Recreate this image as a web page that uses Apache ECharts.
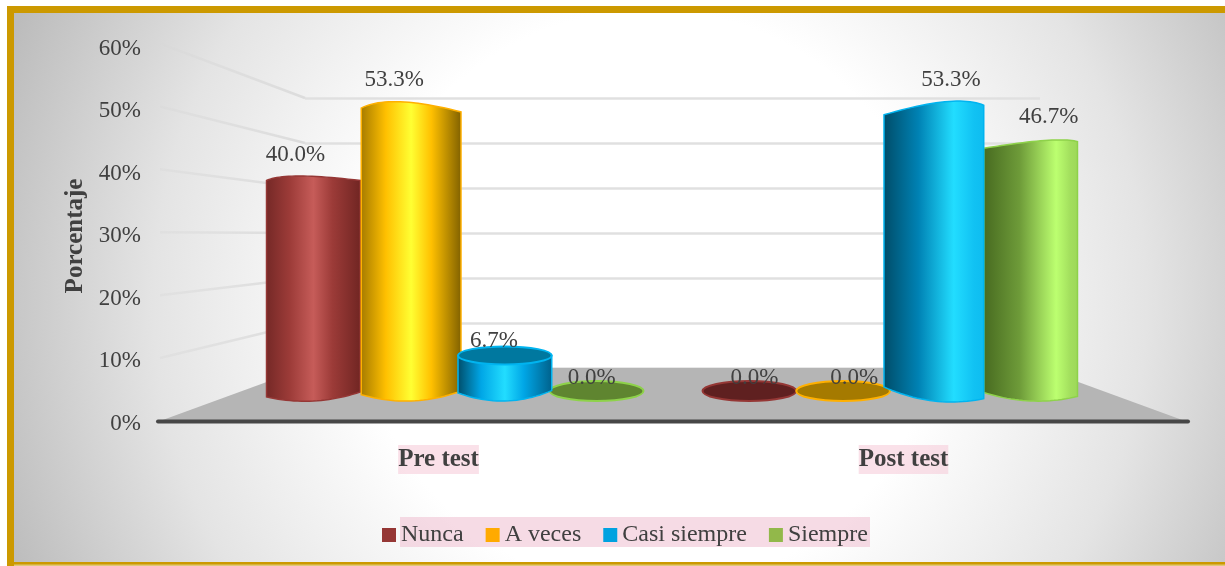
<!DOCTYPE html>
<html>
<head>
<meta charset="utf-8">
<style>html,body{margin:0;padding:0;background:#fff}#c{width:1225px;height:566px}</style>
<script src="https://cdn.jsdelivr.net/npm/echarts@6/dist/echarts.min.js"></script>
</head>
<body>
<div id="c"></div>
<script>
const categories = ['Pre test', 'Post test'];
const nunca = [40.0, 0.0];
const aVeces = [53.3, 0.0];
const casiSiempre = [6.7, 53.3];
const siempre = [0.0, 46.7];
const yTicks = [0, 10, 20, 30, 40, 50, 60];

const FONT = '"Liberation Serif","Times New Roman",serif';
const TXT = '#404040';
const FRONT = {left: 160, width: 1025, top: 43.5, height: 377.5};
const BACK = {left: 305, width: 735, top: 98, height: 270};
const LABELS = {left: 206, width: 930, top: 46, height: 375};
const BARS = {left: 236, width: 872, top: 73, height: 318};
const TICKS = {left: 160, width: 1025, top: 48.5, height: 375};
const MIDX = 672.5;

const palette = [
  {name: 'Nunca', solid: '#953735', dark: '#742826', base: '#9c3b38', light: '#c65c59', end: '#702522', cap: '#5f2020', edge: '#953735', values: nunca, slot: 0, layer: 10},
  {name: 'A veces', solid: '#FFAA00', dark: '#a57a00', base: '#ffc000', light: '#ffff33', end: '#7f6000', cap: '#a57a00', edge: '#ffb000', values: aVeces, slot: 1, layer: 20},
  {name: 'Casi siempre', solid: '#00A2E0', dark: '#004c68', base: '#00a6e6', light: '#22ddff', end: '#00608a', cap: '#00789f', edge: '#00b4f0', values: casiSiempre, slot: 2, layer: 40},
  {name: 'Siempre', solid: '#92B84A', dark: '#476a20', base: '#88bc4a', light: '#bcff70', end: '#4f7a24', cap: '#5f8530', edge: '#8ed24a', values: siempre, slot: 3, layer: 30}
];

function mix(a, b, t) {
  const p = h => [1, 3, 5].map(i => parseInt(h.substr(i, 2), 16));
  const A = p(a), B = p(b);
  return 'rgb(' + A.map((v, i) => Math.round(v + (B[i] - v) * t)).join(',') + ')';
}

function quad(p0, c, p1, n) {
  const pts = [];
  for (let i = 0; i <= n; i++) {
    const s = i / n, r = 1 - s;
    pts.push([r * r * p0[0] + 2 * r * s * c[0] + s * s * p1[0],
              r * r * p0[1] + 2 * r * s * c[1] + s * s * p1[1]]);
  }
  return pts;
}

function cylinder(c) {
  return function (params, api) {
    const cat = api.value(0), v = api.value(1);
    const base = api.coord([cat, 0]);
    const top = api.coord([cat, v]);
    const band = api.size([1, 0])[0];
    const slot = band * 0.215;
    let xc = base[0] + (c.slot - 1.5) * slot;
    const t0 = (xc - MIDX) / 360;
    if (v > 0 && (c.slot === 1 || c.slot === 2)) xc += t0 < 0 ? 4 : -3;
    if (c.slot === 3 && t0 < 0) xc += 2;
    const half = slot / 2 + (v > 50 ? 3 : 0);
    const x0 = xc - half, x1 = xc + half;
    const t = (xc - MIDX) / 360;
    const y0 = base[1], y1 = top[1];
    const dx = xc - MIDX;
    const label = {
      type: 'text', z2: 200,
      style: {
        text: v.toFixed(1) + '%',
        x: xc + Math.sign(dx) * Math.min(18, Math.abs(dx) * 0.065),
        y: y1 - (12.7 + 0.29 * v),
        align: 'center', verticalAlign: 'middle',
        font: '23px ' + FONT, fill: TXT
      }
    };
    const z = c.layer;
    if (v === 0) {
      return {type: 'group', children: [
        {type: 'ellipse', z2: z, shape: {cx: xc, cy: y0, rx: half, ry: 10},
          style: {fill: c.cap, stroke: c.edge, lineWidth: 2}},
        label
      ]};
    }
    const hl = t > 0 ? 0.5 + 0.27 * t : 0.5;
    const afterHl = t > 0 ? mix(c.base, c.light, 0.5) : c.base;
    const rightColor = t > 0 ? mix(c.base, c.light, 0.4) : c.end;
    const fill = new echarts.graphic.LinearGradient(0, 0, 1, 0, [
      {offset: 0, color: c.dark},
      {offset: Math.max(0.12, hl * 0.5), color: t > 0 ? mix(c.dark, c.base, 0.6) : c.base},
      {offset: hl, color: c.light},
      {offset: Math.min(0.92, hl + 0.2), color: afterHl},
      {offset: 1, color: rightColor}
    ]);
    // lower rim, curving toward the viewer and tilted with distance from the centre
    const bc = 3.5 * t * t;
    const bh = t < 0 ? 2.5 * t : (t < 0.9 ? 8 * t : 2 * t);
    const rimL = [x0, y0 + bc - bh], rimR = [x1, y0 + bc + bh];
    const rimMid = (rimL[1] + rimR[1]) / 2;
    const bottom = quad(rimR, [xc, 2 * (y0 + 10) - rimMid], rimL, 24);

    const low = v < 20;
    let topEdge;
    if (low) {
      topEdge = [[x0, y1], [x1, y1]];
    } else {
      const tilt = t < 0 ? -t * (v - 40) * 0.2 : -t * (v - 40) * 0.5;
      const ctrl = v > 50 ? 15 : 7.5;
      topEdge = quad([x0, y1 + 1.5 - tilt], [xc + t * half * 0.6, y1 - ctrl], [x1, y1 + 1.5 + tilt], 24);
    }
    const children = [{
      type: 'polygon', z2: z,
      shape: {points: topEdge.concat(bottom)},
      style: {fill: fill, stroke: c.edge, lineWidth: 1.5}
    }];
    if (low) {
      children.push({type: 'ellipse', z2: z + 1, shape: {cx: xc, cy: y1, rx: half, ry: 9},
        style: {fill: c.cap, stroke: c.edge, lineWidth: 2}});
    }
    children.push(label);
    return {type: 'group', children: children};
  };
}

function walls(params, api) {
  const v = api.value(0);
  const front = api.coord([0, v]);
  const frontX = FRONT.left;
  const yb = BACK.top + BACK.height * (1 - v / 60);
  if (v === 0) {
    return {type: 'polygon', z2: 1, shape: {points: [
      [frontX, front[1]], [FRONT.left + FRONT.width, front[1]],
      [BACK.left + BACK.width, yb], [BACK.left, yb]
    ]}, style: {fill: '#b5b5b5'}};
  }
  return {type: 'line', z2: 1,
    shape: {x1: frontX, y1: front[1], x2: BACK.left, y2: yb},
    style: {lineWidth: 2.5, stroke: new echarts.graphic.LinearGradient(0, 0, 1, 0, [
      {offset: 0, color: 'rgba(215,215,215,0.35)'},
      {offset: 1, color: '#dcdcdc'}
    ])}};
}

const series = [{
  type: 'custom', name: 'walls', silent: true, xAxisIndex: 0, yAxisIndex: 0, z: 1,
  data: yTicks.map(v => [v]), renderItem: walls, encode: {x: -1, y: 0}, clip: false
}].concat(palette.map(c => ({
  type: 'custom', name: c.name, xAxisIndex: 3, yAxisIndex: 3, z: 5, clip: false,
  itemStyle: {color: c.solid},
  data: c.values.map((v, i) => [i, v]),
  encode: {x: 0, y: 1},
  renderItem: cylinder(c)
})));

const plainY = {type: 'value', min: 0, max: 60, interval: 10,
  axisLine: {show: false}, axisTick: {show: false}, axisLabel: {show: false}, splitLine: {show: false}};
const plainX = {type: 'category', data: categories,
  axisLine: {show: false}, axisTick: {show: false}, axisLabel: {show: false}, splitLine: {show: false}};

const chart = echarts.init(document.getElementById('c'), null, {renderer: 'canvas'});
chart.setOption({
  animation: false,
  textStyle: {fontFamily: FONT},
  graphic: [
    {type: 'rect', z: -10, silent: true, shape: {x: 10.5, y: 9.5, width: 1230, height: 556},
      style: {
        fill: new echarts.graphic.RadialGradient(650, 300, 690, [
          {offset: 0, color: '#ffffff'},
          {offset: 0.42, color: '#ffffff'},
          {offset: 0.72, color: '#e4e4e4'},
          {offset: 1, color: '#bcbcbc'}
        ], true),
        stroke: '#CC9900', lineWidth: 7
      }},
    {type: 'rect', z: -9, silent: true, shape: {x: 14, y: 564.5, width: 1211, height: 1.5},
      style: {fill: '#e0c878'}},
    {type: 'rect', z: -1, silent: true, shape: {x: 400, y: 517, width: 470, height: 30},
      style: {fill: 'rgba(240,195,212,0.6)'}},
    {type: 'line', z: 3, silent: true, shape: {x1: 158, y1: 421.5, x2: 1188, y2: 421.5},
      style: {stroke: '#474747', lineWidth: 4, lineCap: 'round'}}
  ],
  legend: {
    left: 377, top: 518, itemWidth: 14, itemHeight: 14, itemGap: 22,
    icon: 'rect', selectedMode: false,
    data: palette.map(c => c.name),
    textStyle: {fontFamily: FONT, fontSize: 24, color: TXT, padding: [2, 0, 0, 0]}
  },
  grid: [
    Object.assign({containLabel: false}, FRONT),
    Object.assign({containLabel: false}, BACK),
    Object.assign({containLabel: false}, LABELS),
    Object.assign({containLabel: false}, BARS),
    Object.assign({containLabel: false}, TICKS)
  ],
  xAxis: [
    Object.assign({gridIndex: 0}, plainX),
    Object.assign({gridIndex: 1}, plainX),
    Object.assign({gridIndex: 2}, plainX, {
      axisLabel: {show: true, margin: 24, fontFamily: FONT, fontSize: 25, fontWeight: 'bold', color: TXT,
        backgroundColor: 'rgba(245,195,212,0.5)', padding: [2, 0, 2, 0]}
    }),
    Object.assign({gridIndex: 3}, plainX),
    Object.assign({gridIndex: 4}, plainX)
  ],
  yAxis: [
    Object.assign({gridIndex: 0}, plainY),
    Object.assign({gridIndex: 1}, plainY, {
      splitLine: {show: true, lineStyle: {color: '#e0e0e0', width: 2.5}}
    }),
    Object.assign({gridIndex: 2}, plainY),
    Object.assign({gridIndex: 3}, plainY),
    Object.assign({gridIndex: 4}, plainY, {
      axisLabel: {show: true, margin: 19, fontFamily: FONT, fontSize: 23, color: TXT,
        formatter: '{value}%'},
      name: 'Porcentaje', nameLocation: 'middle', nameGap: 66, nameRotate: 90,
      nameTextStyle: {fontFamily: FONT, fontSize: 25, fontWeight: 'bold', color: TXT}
    })
  ],
  series: series
});
</script>
</body>
</html>
